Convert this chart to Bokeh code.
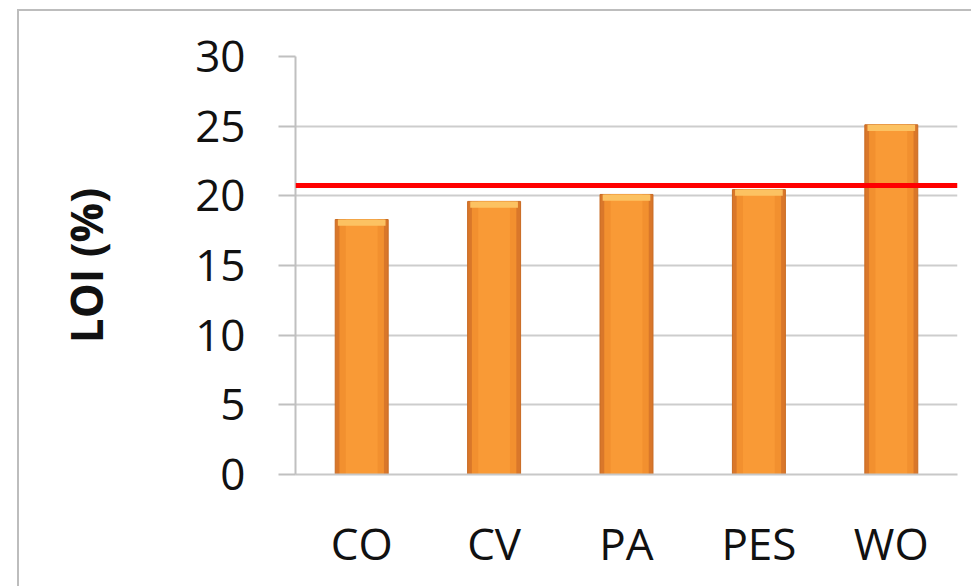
from bokeh.plotting import figure
from bokeh.models import Span, FixedTicker
from bokeh.embed import file_html
from bokeh.resources import INLINE

# ---- data ----
categories = ["CO", "CV", "PA", "PES", "WO"]
loi_values = [18.3, 19.6, 20.1, 20.45, 25.1]
threshold = 20.75
y_ticks = [0, 5, 10, 15, 20, 25, 30]

FONT = "Open Sans"

p = figure(
    x_range=categories, y_range=(0, 30),
    width=954, height=577,
    output_backend="svg", toolbar_location=None,
    min_border_left=276, min_border_right=16,
    min_border_top=45, min_border_bottom=114,
    background_fill_color="white", border_fill_color="white",
)
p.styles = {"border-left": "2px solid #bdbdbd", "border-top": "2px solid #bdbdbd",
            "margin-left": "17px", "margin-top": "9px"}
p.outline_line_color = None

# bars: layered to imitate the bevelled gradient
bar_w = 0.4
p.vbar(x=categories, top=loi_values, width=bar_w, bottom=0,
       fill_color="#d9772a", line_color="#c86a22", line_width=1)
p.vbar(x=categories, top=loi_values, width=bar_w * 0.84, bottom=0,
       fill_color="#f2902f", line_color=None)
p.vbar(x=categories, top=loi_values, width=bar_w * 0.6, bottom=0,
       fill_color="#f99a36", line_color=None)
tops_hi = [v - 0.45 for v in loi_values]
p.vbar(x=categories, top=loi_values, bottom=tops_hi, width=bar_w * 0.9,
       fill_color="#fcc262", line_color=None)

# threshold line
p.add_layout(Span(location=threshold, dimension="width",
                  line_color="#ff0000", line_width=5))

# grid
p.xgrid.grid_line_color = None
p.ygrid.grid_line_color = "#cdcdcd"
p.ygrid.grid_line_width = 2
p.ygrid.ticker = FixedTicker(ticks=y_ticks)

# y axis
p.yaxis.ticker = FixedTicker(ticks=y_ticks)
p.yaxis.axis_label = "LOI (%)"
p.yaxis.axis_label_text_font = FONT
p.yaxis.axis_label_text_font_style = "bold"
p.yaxis.axis_label_text_font_size = "44px"
p.yaxis.axis_label_text_color = "#111111"
p.yaxis.axis_label_standoff = 76
p.yaxis.major_label_text_font = FONT
p.yaxis.major_label_text_font_size = "44px"
p.yaxis.major_label_text_color = "#111111"
p.yaxis.major_label_standoff = 33
p.yaxis.major_tick_out = 17
p.yaxis.major_tick_in = 0
p.yaxis.minor_tick_out = 0
p.yaxis.minor_tick_in = 0
p.yaxis.major_tick_line_color = "#c0c0c0"
p.yaxis.major_tick_line_width = 2
p.yaxis.axis_line_color = "#c0c0c0"
p.yaxis.axis_line_width = 2

# x axis
p.xaxis.major_label_text_font = FONT
p.xaxis.major_label_text_font_size = "44px"
p.xaxis.major_label_text_color = "#111111"
p.xaxis.major_label_standoff = 38
p.xaxis.major_tick_out = 0
p.xaxis.major_tick_in = 0
p.xaxis.axis_line_color = "#c8c8c8"
p.xaxis.axis_line_width = 2
p.x_range.range_padding = 0

open("out.html", "w").write(file_html(p, INLINE))
